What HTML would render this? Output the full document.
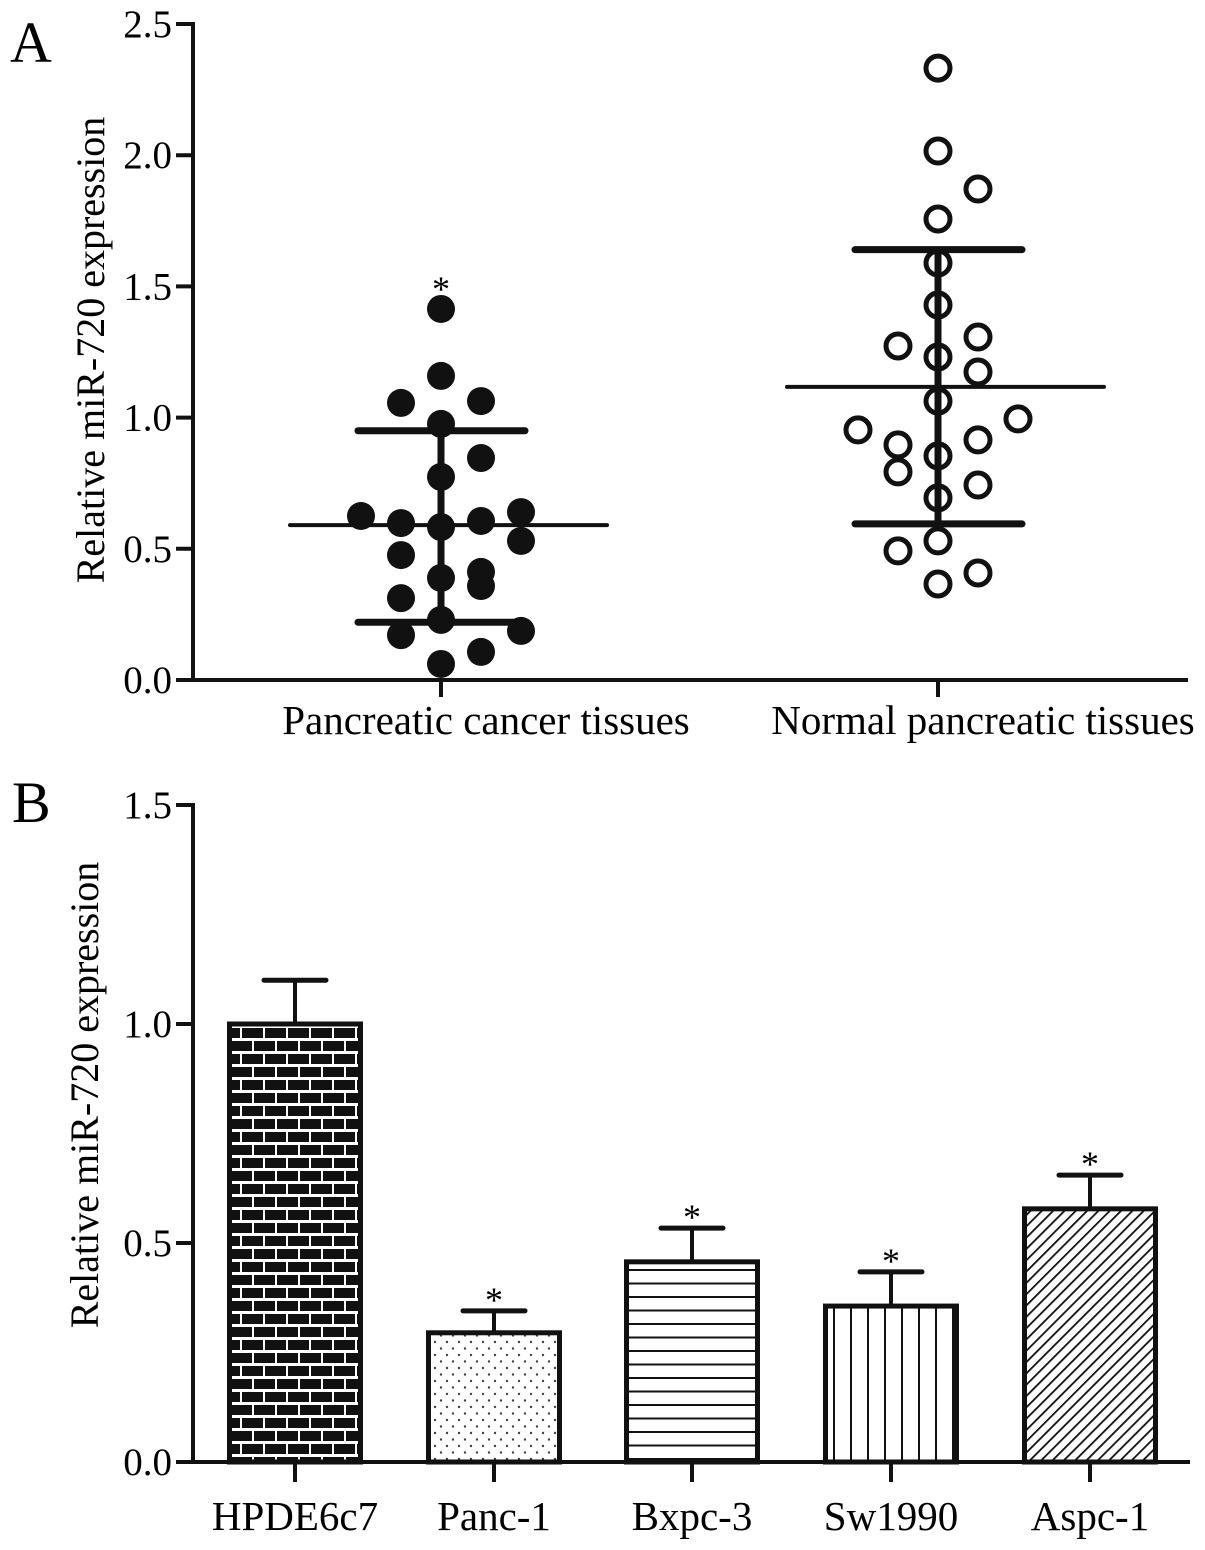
<!DOCTYPE html>
<html><head><meta charset="utf-8"><style>
html,body{margin:0;padding:0;background:#fff}
svg{display:block;font-family:"Liberation Serif",serif}
</style></head><body>
<svg id="fig" width="1205" height="1550" viewBox="0 0 1205 1550">
<defs>
<pattern id="brick" width="46" height="26" patternUnits="userSpaceOnUse">
<rect width="46" height="26" fill="#fff"/>
<rect x="1" y="1" width="21" height="10" fill="#111"/><rect x="24" y="1" width="21" height="10" fill="#111"/>
<rect x="-11" y="14" width="21" height="10" fill="#111"/><rect x="12" y="14" width="21" height="10" fill="#111"/><rect x="35" y="14" width="21" height="10" fill="#111"/>
</pattern>
<pattern id="dots" width="12" height="13" patternUnits="userSpaceOnUse">
<rect width="12" height="13" fill="#fff"/><circle cx="3" cy="3" r="1.2" fill="#444"/><circle cx="9" cy="9.5" r="1.2" fill="#444"/>
</pattern>
<pattern id="hlines" width="10" height="13.5" patternUnits="userSpaceOnUse">
<rect width="10" height="13.5" fill="#fff"/><rect y="0" width="10" height="2" fill="#111"/>
</pattern>
<pattern id="vlines" width="17" height="10" patternUnits="userSpaceOnUse">
<rect width="17" height="10" fill="#fff"/><rect x="0" width="2" height="10" fill="#111"/>
</pattern>
<pattern id="diag" width="8" height="8" patternUnits="userSpaceOnUse" patternTransform="rotate(45)">
<rect width="8" height="8" fill="#fff"/><rect x="0" width="1.8" height="8" fill="#111"/>
</pattern>
</defs>
<g id="panelA"></g>
<g id="panelB"></g>
</svg>
<script>
// Panel A data
const groupsA = ["Pancreatic cancer tissues", "Normal pancreatic tissues"];
const cancerX = [0,0,-1,1,0,1,0,-2,-1,0,1,2,2,-1,0,1,1,-1,0,2,-1,0,1];
const cancerVals = [1.414,1.159,1.056,1.063,0.976,0.846,0.774,0.625,0.598,0.583,0.606,0.640,0.530,0.476,0.389,0.412,0.358,0.312,0.229,0.187,0.171,0.061,0.107];
const normalX = [0,0,1,0,0,-1,1,0,0,1,0,2,-2,-1,1,0,-1,1,0,-1,0,1,0];
const normalVals = [2.332,2.016,1.871,1.757,1.589,1.273,1.307,1.429,1.231,1.174,1.063,0.995,0.953,0.896,0.915,0.854,0.793,0.743,0.694,0.492,0.530,0.408,0.366];
const meansA = [0.59, 1.117];
const sdLowA = [0.22, 0.595];
const sdHighA = [0.95, 1.64];
const ticksA = [0, 0.5, 1.0, 1.5, 2.0, 2.5];
// Panel B data
const cellLines = ["HPDE6c7","Panc-1","Bxpc-3","Sw1990","Aspc-1"];
const barVals = [1.0, 0.295, 0.457, 0.356, 0.578];
const errTop = [1.10, 0.345, 0.534, 0.434, 0.655];
const sig = [false, true, true, true, true];
const ticksB = [0, 0.5, 1.0, 1.5];

const NS = "http://www.w3.org/2000/svg";
function mk(parent, tag, attrs, text){const e=document.createElementNS(NS,tag);for(const k in attrs)e.setAttribute(k,attrs[k]);if(text!==undefined)e.textContent=text;parent.appendChild(e);return e;}

// ---- Panel A ----
const A = document.getElementById('panelA');
const yA = v => 680 - v*262.4;
const xA = i => [441, 938][i];
const jit = 40;
let t = mk(A,'text',{x:10,y:62,'font-size':58},'A');
 
let ax = mk(A,'path',{d:'M193 22 V680 H1188',stroke:'#111','stroke-width':4,fill:'none'});
 
ticksA.forEach(v=>{
  let l=mk(A,'line',{x1:176,x2:193,y1:yA(v),y2:yA(v),stroke:'#111','stroke-width':4});
   
  let tx=mk(A,'text',{x:172,y:yA(v)+13,'font-size':39,'text-anchor':'end'},v.toFixed(1));
   
});
groupsA.forEach((g,i)=>{
  let l=mk(A,'line',{x1:xA(i),x2:xA(i),y1:680,y2:697,stroke:'#111','stroke-width':4});
   
  let tx=mk(A,'text',{x:xA(i)+45,y:734,'font-size':41,'text-anchor':'middle'},g);
   
});
let yt=mk(A,'text',{x:0,y:0,'font-size':40,'text-anchor':'middle',transform:'translate(104,350) rotate(-90)'},'Relative miR-720 expression');
 
cancerVals.forEach((v,k)=>{
  let c=mk(A,'circle',{cx:xA(0)+cancerX[k]*jit,cy:yA(v),r:14,fill:'#111'});
   
});
normalVals.forEach((v,k)=>{
  let c=mk(A,'circle',{cx:xA(1)+normalX[k]*jit,cy:yA(v),r:12,fill:'#fff',stroke:'#111','stroke-width':5});
   
});
[0,1].forEach(i=>{
  const cx=xA(i);
  let m=mk(A,'line',{x1:cx-151,x2:cx+166,y1:yA(meansA[i]),y2:yA(meansA[i]),stroke:'#111','stroke-width':4,'stroke-linecap':'round'});
   
  let v=mk(A,'line',{x1:cx,x2:cx,y1:yA(sdHighA[i]),y2:yA(sdLowA[i]),stroke:'#111','stroke-width':7});
   
  [sdHighA[i],sdLowA[i]].forEach(s=>{
    let c=mk(A,'line',{x1:cx-83,x2:cx+84,y1:yA(s),y2:yA(s),stroke:'#111','stroke-width':7,'stroke-linecap':'round'});
     
  });
});
let st=mk(A,'text',{x:xA(0),y:yA(cancerVals[0])-8,'font-size':36,'text-anchor':'middle'},'*');
 

// ---- Panel B ----
const B = document.getElementById('panelB');
const yB = v => 1462 - v*438;
const xB = i => [295, 494, 692, 891, 1090][i];
const fills = ['url(#brick)','url(#dots)','url(#hlines)','url(#vlines)','url(#diag)'];
t = mk(B,'text',{x:12,y:822,'font-size':58},'B');
 
ax = mk(B,'path',{d:'M193 803 V1462 H1190',stroke:'#111','stroke-width':4,fill:'none'});
 
ticksB.forEach(v=>{
  let l=mk(B,'line',{x1:176,x2:193,y1:yB(v),y2:yB(v),stroke:'#111','stroke-width':4});
   
  let tx=mk(B,'text',{x:172,y:yB(v)+13,'font-size':39,'text-anchor':'end'},v.toFixed(1));
   
});
yt=mk(B,'text',{x:0,y:0,'font-size':40,'text-anchor':'middle',transform:'translate(98,1095) rotate(-90)'},'Relative miR-720 expression');
 
cellLines.forEach((c,i)=>{
  const cx=xB(i), w=131;
  let e=mk(B,'line',{x1:cx,x2:cx,y1:yB(errTop[i]),y2:yB(barVals[i]),stroke:'#111','stroke-width':4});
   
  let cap=mk(B,'line',{x1:cx-31,x2:cx+31,y1:yB(errTop[i]),y2:yB(errTop[i]),stroke:'#111','stroke-width':5,'stroke-linecap':'round'});
   
  let r=mk(B,'rect',{x:cx-w/2,y:yB(barVals[i]),width:w,height:yB(0)-yB(barVals[i]),fill:fills[i],stroke:'#111','stroke-width':5});
   
  let tk=mk(B,'line',{x1:cx,x2:cx,y1:1462,y2:1482,stroke:'#111','stroke-width':4});
   
  let tx=mk(B,'text',{x:cx,y:1530,'font-size':41,'text-anchor':'middle'},c);
   
  if(sig[i]){
    let s=mk(B,'text',{x:cx,y:yB(errTop[i])+1,'font-size':36,'text-anchor':'middle'},'*');
     
  }
});
</script>
</body></html>
